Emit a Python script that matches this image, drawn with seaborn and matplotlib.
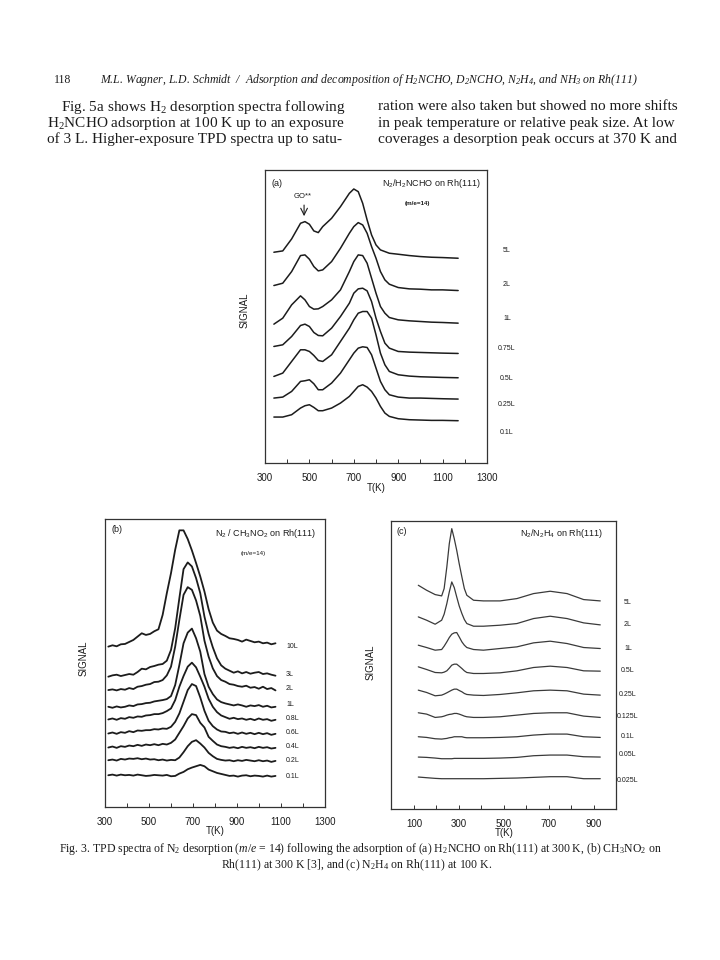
import seaborn as sns
import pandas as pd
import matplotlib.pyplot as plt

# y values are trace heights, counted downward from the page top
# panel (a) N2/H2NCHO
temps_a = [340, 380, 420, 460, 480, 500, 520, 540, 560, 600, 640, 680, 700, 720, 740, 760,
           780, 800, 820, 840, 860, 900, 950, 1000, 1050, 1100, 1170]
labels_a = ['5L', '2L', '1L', '0.75L', '0.5L', '0.25L', '0.1L']
a_5L = [262, 258, 222, 175, 170, 178, 198, 203, 185, 160, 125, 85, 72, 80, 115, 165,
        210, 240, 255, 260, 265, 268, 272, 275, 277, 278, 280]
a_2L = [362, 355, 320, 272, 270, 283, 305, 318, 315, 290, 250, 205, 185, 173, 180, 205,
        245, 280, 320, 345, 358, 368, 372, 373, 375, 375, 377]
a_1L = [478, 460, 420, 393, 405, 425, 433, 432, 425, 405, 375, 320, 290, 270, 272, 295,
        340, 385, 425, 445, 458, 465, 468, 470, 472, 473, 475]
a_075L = [545, 540, 515, 482, 478, 485, 503, 512, 513, 490, 455, 415, 385, 372, 370, 378,
          410, 460, 500, 535, 550, 560, 562, 563, 564, 565, 566]
a_05L = [635, 625, 590, 555, 555, 560, 572, 587, 590, 570, 530, 490, 465, 445, 440, 440,
         460, 510, 565, 600, 620, 630, 634, 636, 637, 638, 639]
a_025L = [700, 697, 680, 650, 648, 645, 657, 675, 675, 655, 625, 585, 565, 550, 546, 548,
          570, 610, 650, 675, 690, 697, 700, 700, 701, 702, 703]
a_01L = [757, 757, 750, 730, 723, 720, 728, 738, 738, 730, 715, 695, 680, 665, 660, 667,
         680, 700, 725, 745, 755, 762, 765, 766, 767, 767, 768]
series_a = [a_5L, a_2L, a_1L, a_075L, a_05L, a_025L, a_01L]

# panel (b) N2/CH3NO2
temps_b = [315, 334, 353, 372, 391, 410, 429, 448, 467, 486, 505, 524, 543, 562, 581, 600, 619, 638, 657, 676,
           695, 714, 733, 752, 771, 790, 809, 828, 847, 866, 885, 904, 923, 942, 961, 980, 999, 1018, 1037, 1056, 1075]
labels_b = ['10L', '3L', '2L', '1L', '0.8L', '0.6L', '0.4L', '0.2L', '0.1L']
b_10L = [410, 406, 409, 403, 402, 396, 390, 380, 370, 375, 372, 364, 358, 315, 250, 190, 120, 62, 62, 88,
         122, 160, 200, 245, 298, 338, 362, 372, 378, 385, 387, 390, 395, 389, 393, 397, 395, 400, 398, 403, 400]
b_3L = [500, 496, 494, 498, 495, 492, 494, 486, 476, 478, 471, 468, 464, 462, 452, 420, 355, 265, 178, 158,
        170, 205, 250, 320, 372, 412, 445, 466, 476, 482, 488, 484, 490, 486, 491, 488, 486, 492, 490, 494, 497]
b_2L = [540, 538, 541, 537, 539, 534, 537, 530, 528, 524, 522, 516, 515, 510, 496, 470, 410, 330, 255, 232,
        240, 272, 318, 392, 440, 475, 498, 510, 515, 522, 524, 528, 530, 527, 533, 531, 536, 530, 537, 534, 541]
b_1L = [590, 593, 589, 592, 590, 586, 588, 583, 582, 579, 578, 574, 572, 570, 567, 558, 525, 465, 400, 368,
        356, 385, 425, 492, 530, 552, 568, 576, 580, 583, 586, 583, 586, 590, 586, 588, 585, 590, 587, 592, 590]
b_08L = [628, 625, 629, 624, 626, 621, 623, 619, 620, 616, 615, 612, 612, 609, 603, 595, 570, 530, 498, 470,
         458, 472, 500, 530, 566, 590, 606, 616, 621, 626, 623, 627, 625, 629, 626, 630, 625, 629, 627, 632, 629]
b_06L = [670, 667, 671, 666, 668, 663, 666, 661, 662, 660, 660, 657, 658, 655, 656, 650, 635, 610, 575, 540,
         522, 528, 562, 602, 632, 648, 658, 664, 665, 669, 667, 671, 667, 671, 668, 672, 668, 672, 669, 674, 671]
b_04L = [712, 709, 713, 708, 710, 706, 708, 704, 707, 703, 705, 702, 705, 701, 703, 698, 688, 668, 648, 625,
         612, 615, 638, 652, 680, 692, 703, 708, 710, 713, 711, 714, 710, 713, 711, 714, 710, 713, 711, 715, 713]
b_02L = [750, 748, 751, 746, 748, 745, 746, 744, 747, 745, 748, 747, 750, 748, 751, 749, 750, 742, 726, 708,
         695, 690, 700, 712, 728, 738, 746, 749, 751, 750, 753, 750, 752, 749, 751, 753, 750, 753, 751, 755, 752]
b_01L = [795, 793, 796, 793, 795, 794, 796, 793, 795, 797, 796, 794, 795, 796, 794, 798, 797, 790, 785, 777,
         772, 768, 764, 768, 778, 783, 788, 791, 794, 797, 796, 799, 796, 795, 798, 796, 797, 799, 796, 799, 797]
series_b = [b_10L, b_3L, b_2L, b_1L, b_08L, b_06L, b_04L, b_02L, b_01L]

# panel (c) N2/N2H4
temps_c = [119, 156, 194, 223, 234, 246, 257, 268, 279, 290, 301, 313, 324, 335, 365, 409, 483, 558, 632, 706, 781, 855, 929]
labels_c = ['5L', '2L', '1L', '0.5L', '0.25L', '0.125L', '0.1L', '0.05L', '0.025L']
c_5L = [225, 240, 253, 257, 235, 170, 100, 55, 85, 120, 160, 200, 235, 255, 270, 272, 272, 265, 250, 243, 250, 268, 272]
c_2L = [320, 330, 342, 330, 312, 280, 245, 215, 232, 260, 287, 310, 328, 340, 348, 348, 345, 340, 325, 318, 325, 338, 344]
c_1L = [405, 412, 420, 418, 408, 395, 382, 372, 368, 367, 380, 395, 405, 412, 418, 420, 415, 410, 398, 393, 400, 412, 415]
c_05L = [470, 478, 487, 488, 486, 482, 474, 465, 462, 462, 468, 475, 482, 487, 490, 490, 488, 482, 472, 468, 472, 482, 483]
c_025L = [540, 547, 557, 555, 552, 548, 544, 540, 537, 537, 541, 545, 550, 553, 555, 556, 553, 548, 542, 540, 542, 552, 555]
c_0125L = [608, 612, 622, 620, 618, 615, 613, 612, 610, 610, 612, 615, 618, 620, 622, 622, 620, 615, 610, 608, 608, 618, 622]
c_01L = [680, 682, 686, 687, 686, 685, 683, 682, 680, 680, 680, 680, 682, 683, 683, 683, 682, 680, 675, 672, 672, 680, 682]
c_005L = [741, 742, 744, 746, 746, 746, 746, 746, 745, 745, 745, 745, 745, 745, 745, 745, 744, 742, 737, 735, 735, 740, 741]
c_0025L = [801, 803, 805, 806, 806, 806, 806, 806, 806, 806, 806, 806, 806, 806, 806, 806, 805, 804, 802, 800, 800, 806, 806]
series_c = [c_5L, c_2L, c_1L, c_05L, c_025L, c_0125L, c_01L, c_005L, c_0025L]

label_y_a = [250, 285, 318, 349, 378, 405, 433]
label_y_b = [646, 674, 689, 704, 719, 733, 747, 761, 776]
label_y_c = [602, 625, 648, 671, 694, 716, 737, 755, 780]

W, H = 720, 960
INK = '#1c1c1c'
SANS = 'Liberation Sans'
SERIF = 'Liberation Serif'


def make_frame(temps, labels, series):
    rows = []
    for name, vals in zip(labels, series):
        rows.append(pd.DataFrame({'T': temps, 'signal': vals, 'exposure': name}))
    return pd.concat(rows, ignore_index=True)


def page_text(x, y, s, **kw):
    kw.setdefault('ha', 'left')
    kw.setdefault('va', 'center')
    kw.setdefault('color', INK)
    fig.text(x / W, 1 - y / H, s, **kw)


def panel(box, xlim, ylim, df, lw, color, xticks, shown, xlabel_at, ylabel_at):
    left, top, right, bottom = box
    ax = fig.add_axes([left / W, 1 - bottom / H, (right - left) / W, (bottom - top) / H])
    sns.lineplot(data=df, x='T', y='signal', hue='exposure', palette=[color] * df['exposure'].nunique(),
                 estimator=None, sort=False, legend=False, lw=lw, ax=ax)
    ax.set_xlim(*xlim)
    ax.set_ylim(*ylim)
    ax.set_yticks([])
    ax.set_xticks(xticks)
    ax.set_xticklabels([str(t) if t in shown else '' for t in xticks], fontsize=7, color=INK, family=SANS)
    ax.tick_params(axis='x', direction='in', length=3, width=0.7, pad=7.5, color='#333333', bottom=True)
    for s in ax.spines.values():
        s.set_visible(True)
        s.set_color('#333333')
        s.set_linewidth(0.9)
    ax.set_xlabel('T(K)', fontsize=7, color=INK, family=SANS)
    ax.set_ylabel('SIGNAL', fontsize=7, color=INK, family=SANS)
    ax.xaxis.set_label_coords((xlabel_at[0] - left) / (right - left), (bottom - xlabel_at[1]) / (bottom - top))
    ax.yaxis.set_label_coords((ylabel_at[0] - left) / (right - left), (bottom - ylabel_at[1]) / (bottom - top))
    return ax


sns.set_theme(style='white')
plt.rcParams['font.family'] = [SANS, 'DejaVu Sans']
plt.rcParams['mathtext.fontset'] = 'custom'
plt.rcParams['mathtext.it'] = 'Liberation Serif:italic'
plt.rcParams['mathtext.rm'] = 'Liberation Serif'
plt.rcParams['mathtext.default'] = 'regular'

fig = plt.figure(figsize=(7.2, 9.6), dpi=100, facecolor='white')

# panel a
ax_a = panel((265, 170, 487, 463), (300, 1300), (895, 15), make_frame(temps_a, labels_a, series_a), 1.1, INK,
             list(range(300, 1301, 100)), [300, 500, 700, 900, 1100, 1300], (376, 483), (250, 310))
ax_a.annotate('', xy=(476, 162), xytext=(476, 112), arrowprops=dict(arrowstyle='->', color=INK, lw=0.8))
page_text(303, 197, 'GO**', ha='center', fontsize=5.5)
page_text(271, 183, '(a)', fontsize=6.5)
page_text(431, 184, 'N$_2$/H$_2$NCHO on Rh(111)', ha='center', fontsize=6.5)
page_text(417, 204, '(m/e=14)', ha='center', fontsize=4.5, fontweight='bold')
for lab, y in zip(labels_a, label_y_a):
    page_text(507, y, lab, ha='center', fontsize=5)

# panel b
ax_b = panel((105, 519, 325, 807), (300, 1300), (890, 28), make_frame(temps_b, labels_b, series_b), 1.3, INK,
             list(range(300, 1301, 100)), [300, 500, 700, 900, 1100, 1300], (215, 826), (89, 658))
page_text(111, 530, '(b)', fontsize=6.5)
page_text(266, 533, 'N$_2$ / CH$_3$NO$_2$ on Rh(111)', ha='center', fontsize=6.5)
page_text(253, 553, '(m/e=14)', ha='center', fontsize=4.5)
for lab, y in zip(labels_b, label_y_b):
    page_text(286, y, lab, fontsize=5)

# panel c
ax_c = panel((391, 521, 616, 809), (-2.5, 999), (897, 32), make_frame(temps_c, labels_c, series_c), 0.9, '#3a3a3a',
             list(range(100, 901, 100)), [100, 300, 500, 700, 900], (504, 828), (376, 662))
page_text(396, 531, '(c)', fontsize=6.5)
page_text(561, 534, 'N$_2$/N$_2$H$_4$ on Rh(111)', ha='center', fontsize=6.5)
for lab, y in zip(labels_c, label_y_c):
    page_text(628, y, lab, ha='center', fontsize=5)

# running head and body text around the figure
page_text(54, 80, '118', family=SERIF, fontsize=8.5)
page_text(100, 80, 'M.L. Wagner, L.D. Schmidt  /  Adsorption and decomposition of H$_2$NCHO, D$_2$NCHO, N$_2$H$_4$, and NH$_3$ on Rh(111)',
          family=SERIF, style='italic', fontsize=8.5)
left_col = ['Fig. 5a shows H$_2$ desorption spectra following',
            'H$_2$NCHO adsorption at 100 K up to an exposure',
            'of 3 L. Higher-exposure TPD spectra up to satu-']
right_col = ['ration were also taken but showed no more shifts',
             'in peak temperature or relative peak size. At low',
             'coverages a desorption peak occurs at 370 K and']
for i, y in enumerate([107, 123, 139]):
    page_text(61 if i == 0 else 47, y, left_col[i], family=SERIF, fontsize=11)
    page_text(378, y, right_col[i], family=SERIF, fontsize=11)

page_text(360, 849, 'Fig. 3. TPD spectra of N$_2$ desorption ($\\mathit{m/e}$ = 14) following the adsorption of (a) H$_2$NCHO on Rh(111) at 300 K, (b) CH$_3$NO$_2$ on',
          ha='center', family=SERIF, fontsize=8.5)
page_text(357, 865, 'Rh(111) at 300 K [3], and (c) N$_2$H$_4$ on Rh(111) at 100 K.',
          ha='center', family=SERIF, fontsize=8.5)

fig.savefig('out.png', dpi=100, facecolor='white')
